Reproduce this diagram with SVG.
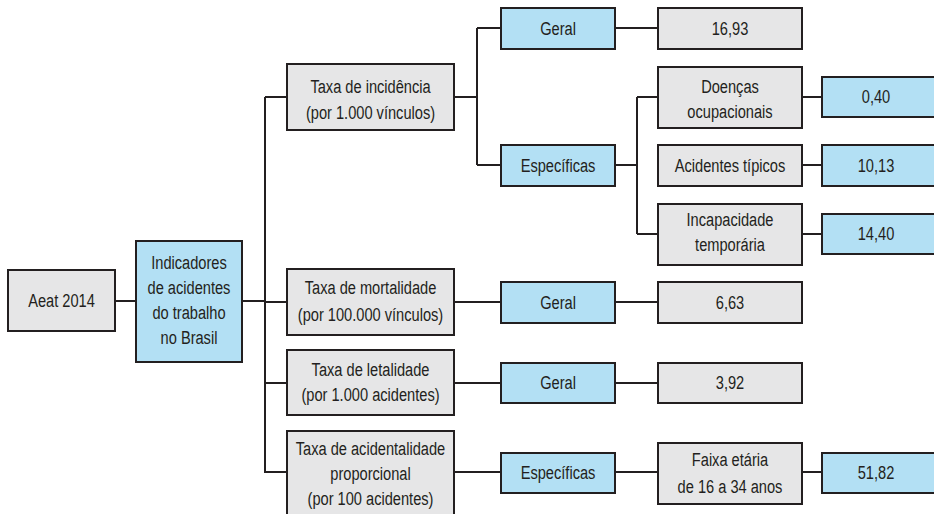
<svg xmlns="http://www.w3.org/2000/svg" width="934" height="514" viewBox="0 0 934 514">
<style>
.g{fill:#e6e6e7;stroke:#231f20;stroke-width:2}
.b{fill:#b3e0f4;stroke:#231f20;stroke-width:2}
text{font-family:"Liberation Sans",Arial,sans-serif;font-size:19px;fill:#231f20;text-anchor:middle;dominant-baseline:central}
.c{fill:none;stroke:#231f20;stroke-width:2}
</style>
<rect width="934" height="514" fill="#fff"/>
<g id="connectors" class="c">
<path d="M115,301H136M242,301H265M265,97V473M265,97H287M265,302H287M265,383H287M265,472H287"/>
<path d="M454,97H477M477,28V165M477,28H501M477,165H501M615,28H658"/>
<path d="M615,165H637M637,97V234M637,97H658M637,234H658M802,97H822M802,165H822M802,234H822"/>
<path d="M454,302H501M615,302H658M454,383H501M615,383H658M454,472H501M615,472H658M802,472H822"/>
</g>
<g id="aeat"><rect class="g" x="8" y="270" width="107" height="61"/><g transform="translate(61.5,0) scale(0.77,1)"><text x="0" y="300.5">Aeat 2014</text></g></g>
<g id="indicadores"><rect class="b" x="136" y="241" width="106" height="121"/><g transform="translate(189,0) scale(0.77,1)">
<text x="0" y="263">Indicadores</text><text x="0" y="288">de acidentes</text><text x="0" y="313">do trabalho</text><text x="0" y="338">no Brasil</text></g></g>
<g id="incidencia"><rect class="g" x="287" y="64" width="167" height="66"/><g transform="translate(370.5,0) scale(0.77,1)"><text x="0" y="87">Taxa de incidência</text><text x="0" y="113">(por 1.000 vínculos)</text></g></g>
<g id="inc-geral"><rect class="b" x="501" y="8" width="114" height="41"/><g transform="translate(558,0) scale(0.77,1)"><text x="0" y="28.5">Geral</text></g></g>
<g id="inc-geral-val"><rect class="g" x="658" y="8" width="144" height="41"/><g transform="translate(730,0) scale(0.77,1)"><text x="0" y="28.5">16,93</text></g></g>
<g id="inc-especificas"><rect class="b" x="501" y="145" width="114" height="41"/><g transform="translate(558,0) scale(0.77,1)"><text x="0" y="165.5">Específicas</text></g></g>
<g id="doencas"><rect class="g" x="658" y="67" width="144" height="61"/><g transform="translate(730,0) scale(0.77,1)"><text x="0" y="87">Doenças</text><text x="0" y="112">ocupacionais</text></g></g>
<g id="doencas-val"><rect class="b" x="822" y="77" width="120" height="40"/><g transform="translate(876,0) scale(0.77,1)"><text x="0" y="97">0,40</text></g></g>
<g id="tipicos"><rect class="g" x="658" y="145" width="144" height="41"/><g transform="translate(730,0) scale(0.77,1)"><text x="0" y="165.5">Acidentes típicos</text></g></g>
<g id="tipicos-val"><rect class="b" x="822" y="145" width="120" height="41"/><g transform="translate(876,0) scale(0.77,1)"><text x="0" y="165.5">10,13</text></g></g>
<g id="incapacidade"><rect class="g" x="658" y="204" width="144" height="61"/><g transform="translate(730,0) scale(0.77,1)"><text x="0" y="220">Incapacidade</text><text x="0" y="245">temporária</text></g></g>
<g id="incapacidade-val"><rect class="b" x="822" y="214" width="120" height="40"/><g transform="translate(876,0) scale(0.77,1)"><text x="0" y="234">14,40</text></g></g>
<g id="mortalidade"><rect class="g" x="287" y="269" width="167" height="66"/><g transform="translate(370.5,0) scale(0.77,1)"><text x="0" y="288">Taxa de mortalidade</text><text x="0" y="315">(por 100.000 vínculos)</text></g></g>
<g id="mort-geral"><rect class="b" x="501" y="282" width="114" height="41"/><g transform="translate(558,0) scale(0.77,1)"><text x="0" y="302.5">Geral</text></g></g>
<g id="mort-val"><rect class="g" x="658" y="282" width="144" height="41"/><g transform="translate(730,0) scale(0.77,1)"><text x="0" y="302.5">6,63</text></g></g>
<g id="letalidade"><rect class="g" x="287" y="350" width="167" height="65"/><g transform="translate(370.5,0) scale(0.77,1)"><text x="0" y="370">Taxa de letalidade</text><text x="0" y="395">(por 1.000 acidentes)</text></g></g>
<g id="let-geral"><rect class="b" x="501" y="363" width="114" height="40"/><g transform="translate(558,0) scale(0.77,1)"><text x="0" y="383">Geral</text></g></g>
<g id="let-val"><rect class="g" x="658" y="363" width="144" height="40"/><g transform="translate(730,0) scale(0.77,1)"><text x="0" y="383">3,92</text></g></g>
<g id="acidentalidade"><rect class="g" x="287" y="431" width="167" height="100"/><g transform="translate(370.5,0) scale(0.77,1)"><text x="0" y="449">Taxa de acidentalidade</text><text x="0" y="474">proporcional</text><text x="0" y="499">(por 100 acidentes)</text></g></g>
<g id="acid-especificas"><rect class="b" x="501" y="453" width="114" height="40"/><g transform="translate(558,0) scale(0.77,1)"><text x="0" y="473">Específicas</text></g></g>
<g id="faixa"><rect class="g" x="658" y="443" width="144" height="61"/><g transform="translate(730,0) scale(0.77,1)"><text x="0" y="460">Faixa etária</text><text x="0" y="487">de 16 a 34 anos</text></g></g>
<g id="faixa-val"><rect class="b" x="822" y="453" width="120" height="40"/><g transform="translate(876,0) scale(0.77,1)"><text x="0" y="473">51,82</text></g></g>
</svg>
